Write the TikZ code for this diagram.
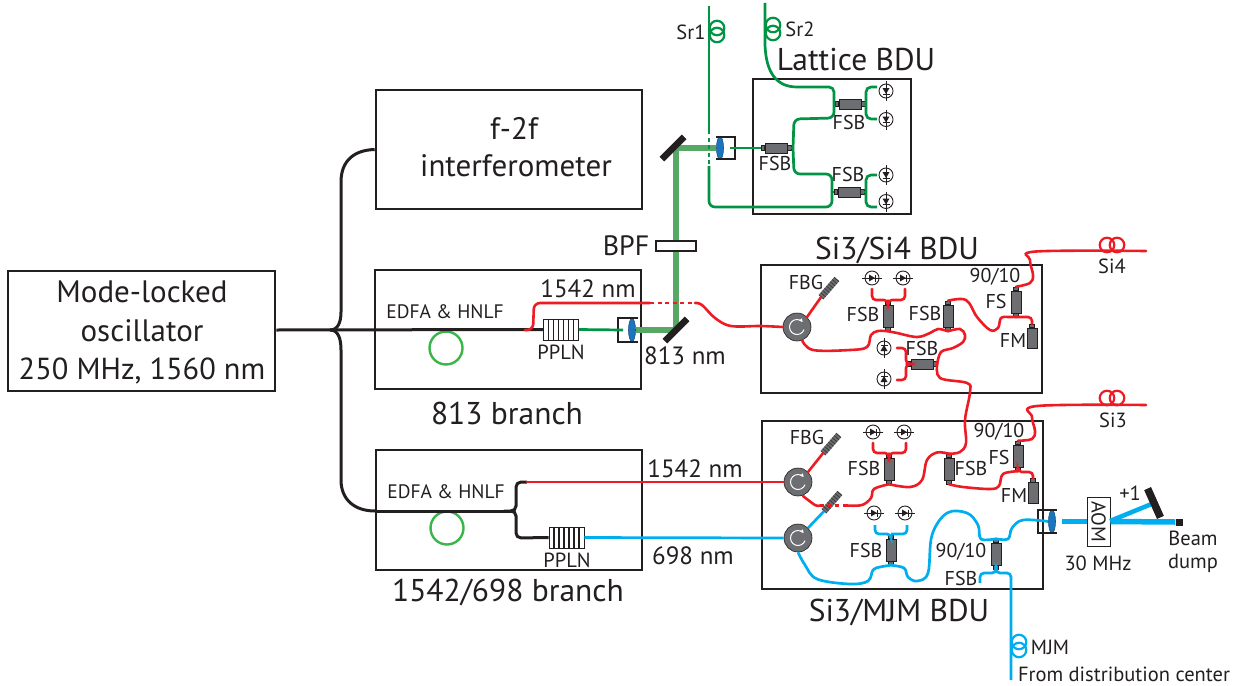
\documentclass[tikz,border=0pt]{standalone}
\usepackage{fontspec}
\setmainfont{PT Sans}
\usetikzlibrary{arrows.meta,shapes.geometric}
\definecolor{ink}{HTML}{231F20}
\definecolor{fred}{HTML}{ED1C24}
\definecolor{fgreen}{HTML}{009444}
\definecolor{fblue}{HTML}{00AEEF}
\definecolor{beamgreen}{HTML}{57A765}
\definecolor{loopgreen}{HTML}{39B54A}
\definecolor{part}{HTML}{6D6E71}
\definecolor{lensblue}{HTML}{1C75BC}
\tikzset{
  boxed/.style={draw=ink,line width=2.6pt,fill=none},
  tbig/.style={text=ink,inner sep=0,font=\fontsize{31}{36}\selectfont},
  tmid/.style={text=ink,inner sep=0,font=\fontsize{31.5}{36}\selectfont},
  tnm/.style={text=ink,inner sep=0,font=\fontsize{25}{30}\selectfont},
  tsm/.style={text=ink,inner sep=0,font=\fontsize{20}{24}\selectfont},
  txs/.style={text=ink,inner sep=0,font=\fontsize{20.5}{24}\selectfont},
  tedfa/.style={text=ink,inner sep=0,font=\fontsize{19.5}{24}\selectfont},
  fibred/.style={draw=fred,line width=2.6pt,line cap=round},
  fibgreen/.style={draw=fgreen,line width=2.7pt},
  fibblue/.style={draw=fblue,line width=2.7pt},
  fibblack/.style={draw=ink,line width=3pt},
  dotted fib/.style={dash pattern=on 4pt off 3.5pt,line cap=butt},
  wavy/.style={smooth,tension=0.6},
  loopring/.style={circle,draw=loopgreen,line width=2.4pt,minimum size=33pt,inner sep=0},
  coil/.style={circle,line width=2.2pt,minimum size=14.5pt,inner sep=0},
  fsbbody/.style={rectangle,fill=part,draw=ink,line width=.5pt,minimum width=22pt,minimum height=10pt,inner sep=0},
  fsbport/.style={rectangle,fill=part,draw=ink,line width=.5pt,minimum width=3.5pt,minimum height=5pt,inner sep=0},
  circulator/.style={circle,fill=part,draw=ink,line width=.6pt,minimum size=28pt,inner sep=0},
  pdring/.style={circle,draw=ink,fill=white,line width=.9pt,minimum size=14pt,inner sep=0},
  gratingbody/.style={rectangle,fill=part,minimum width=24pt,minimum height=6.5pt,inner sep=0},
  mirrorbar/.style={rectangle,fill=ink,minimum width=31pt,minimum height=6pt,inner sep=0},
  lens/.style={ellipse,fill=lensblue,draw=lensblue!70!black,line width=.6pt,minimum width=7pt,minimum height=23pt,inner sep=0},
  pplnbox/.style={rectangle,draw=ink,fill=white,line width=.8pt,inner sep=0},
  thickgreen/.style={draw=beamgreen,line width=5.5pt},
  thickblue/.style={draw=fblue,line width=5.5pt},
  housing/.style={draw=ink,line width=2.8pt},
}
\newcommand\fsb[4]{%
  \node[fsbbody,rotate=#4] (#1) at (#2,#3) {};
  \node[fsbport,rotate=#4,anchor=east] (#1-a) at (#1.west) {};
  \node[fsbport,rotate=#4,anchor=west] (#1-b) at (#1.east) {};}
\newcommand\pd[4]{%
  \node[pdring] (#1) at (#2,#3) {};
  \begin{scope}[shift={(#2,#3)},rotate=#4]
    \draw[ink,line width=1pt] (-10pt,0pt)--(10pt,0pt);
    \fill[ink] (-3pt,-3.5pt)--(3pt,0pt)--(-3pt,3.5pt)--cycle;
    \draw[ink,line width=1pt] (3pt,-3.5pt)--(3pt,3.5pt);
  \end{scope}}
\newcommand\circu[3]{%
  \node[circulator] (#1) at (#2,#3) {};
  \draw[white,line width=1pt,-{Latex[length=3.5pt,width=4pt]}] ([shift={(-20:7.5pt)}]#2,#3) arc[start angle=-20,end angle=-320,radius=7.5pt];}
\newcommand\grating[4]{%
  \node[gratingbody,rotate=#4] (#1) at (#2,#3) {};
  \draw[ink!75!part,line width=6.5pt,dash pattern=on .7pt off 2.2pt] (#1.west)--(#1.east);}
\newcommand\ppln[3]{%
  \node[pplnbox,minimum width=35pt,minimum height=21pt] (#1) at (#2,#3) {};
  \foreach \k in {-12.5,-7.5,-2.5,2.5,7.5,12.5}{\draw[ink,line width=1.3pt] ([xshift=\k pt]#1.north)--([xshift=\k pt]#1.south);}}
\begin{document}
\begin{tikzpicture}[x=1pt,y=-1pt]
\useasboundingbox (0,0) rectangle (1241,685);
% ---------- boxes
\node[boxed,minimum width=267pt,minimum height=120pt,inner sep=0] (osc) at (141.5,331) {};
\node[boxed,minimum width=266pt,minimum height=119pt,inner sep=0] (f2f) at (509,149.5) {};
\node[boxed,minimum width=266pt,minimum height=119pt,inner sep=0] (b813) at (508,329.5) {};
\node[boxed,minimum width=266pt,minimum height=120pt,inner sep=0] (b1542) at (509,510) {};
\node[boxed,minimum width=158pt,minimum height=135pt,inner sep=0] (latt) at (832,146.5) {};
\node[boxed,minimum width=281pt,minimum height=128pt,inner sep=0] (si4) at (901.5,329) {};
\node[boxed,minimum width=281pt,minimum height=168pt,inner sep=0] (si3) at (902.5,505) {};
% ---------- box texts
\node[tbig] (tosc1) at (142,292) {Mode-locked};
\node[tbig] (tosc2) at (142,331) {oscillator};
\node[tbig,font=\fontsize{30.4}{36}\selectfont] (tosc3) at (142,371) {250 MHz, 1560 nm};
\node[tbig] (tf1) at (514,128) {f-2f};
\node[tbig] (tf2) at (516,166) {interferometer};
\node[tmid] (t813) at (507,413) {813 branch};
\node[tmid] (t1542b) at (508,592) {1542/698 branch};
\node[tmid] (tlat) at (856,60) {Lattice BDU};
\node[tmid] (tsi4) at (897,250) {Si3/Si4 BDU};
\node[tmid] (tsi3) at (899,612) {Si3/MJM BDU};
\node[tnm] (tn1) at (588,289) {1542 nm};
\node[tnm] (tn2) at (685,356) {813 nm};
\node[tnm] (tn3) at (695,469) {1542 nm};
\node[tnm] (tn4) at (693,556) {698 nm};
\node[tnm,font=\fontsize{28}{32}\selectfont] (tbpf) at (626,246) {BPF};
\node[tedfa] (te1) at (445,312) {EDFA \& HNLF};
\node[tedfa] (te2) at (446,492) {EDFA \& HNLF};
\node[txs] (tp1) at (561,352) {PPLN};
\node[txs] (tp2) at (567,560) {PPLN};
\node[txs] (tsr1) at (691,32) {Sr1};
\node[txs] (tsr2) at (800,29) {Sr2};
\node[tsm] (tl1) at (775,163) {FSB};
\node[tsm] (tl2) at (849,122) {FSB};
\node[tsm] (tl3) at (848,174) {FSB};
\node[txs] (ts4) at (1112,266) {Si4};
\node[txs] (ts3) at (1113,420) {Si3};
\node[tsm] (a1) at (806,282) {FBG};
\node[tsm] (a2) at (863,314) {FSB};
\node[tsm] (a3) at (925,313) {FSB};
\node[tsm] (a4) at (995,277) {90/10};
\node[tsm] (a5) at (996,301) {FS};
\node[tsm] (a6) at (1013,340) {FM};
\node[tsm] (a7) at (922,348) {FSB};
\node[tsm] (b1) at (807,437) {FBG};
\node[tsm] (b2) at (864,468) {FSB};
\node[tsm] (b3) at (971,468) {FSB};
\node[tsm] (b4) at (999,432) {90/10};
\node[tsm] (b5) at (999,457) {FS};
\node[tsm] (b6) at (1014,495) {FM};
\node[tsm] (b7) at (866,550) {FSB};
\node[tsm] (b8) at (961,552) {90/10};
\node[tsm] (b9) at (961,578) {FSB};
\node[txs] (c1) at (1130,493) {+1};
\node[txs] (c2) at (1098,563) {30 MHz};
\node[txs] (c3) at (1193,538) {Beam};
\node[txs] (c4) at (1193,563) {dump};
\node[txs] (c5) at (1050,647) {MJM};
\node[txs] (c6) at (1124,674) {From distribution center};
% ---------- free-space optics
\node[loopring] (loop1) at (446,348) {};
\node[loopring] (loop2) at (447,528) {};
\ppln{pp1}{561}{329.5}
\ppln{pp2}{566.5}{537.5}
\coordinate (houseA) at (623,330);
\node[lens] (lensA) at (632,330) {};
\coordinate (houseB) at (730,148);
\node[lens] (lensB) at (720,148) {};
\node[lens] (lensC) at (1052,521.5) {};
\node[mirrorbar,rotate=45] (m1) at (676,330) {};
\node[mirrorbar,rotate=45] (m2) at (673,148) {};
\node[rectangle,fill=ink,minimum width=31pt,minimum height=7pt,inner sep=0,rotate=-66] (m3) at (1154,503) {};
\node[rectangle,fill=ink,minimum size=7pt,inner sep=0] (dump) at (1179,522) {};
\node[rectangle,draw=ink,fill=white,line width=1pt,minimum width=49pt,minimum height=23pt,inner sep=0,rotate=-90,text=ink,font=\fontsize{20}{22}\selectfont] (aom) at (1098.5,521.5) {AOM};
\coordinate (filtL) at (676,246);
\coordinate (turn) at (676,148);
\coordinate (beamblue) at (1062,521.5);
\coordinate (beamup) at (1110,521);
% beams
\draw[thickgreen] (lensA.east)--(m1.center);
\draw[thickgreen] (m1.center)--(turn);
\draw[thickgreen] (turn)--(lensB.west);
\path[fill=ink] (m1.north west)--(m1.north east)--(m1.south east)--(m1.south west)--cycle;
\path[fill=ink] (m2.north west)--(m2.north east)--(m2.south east)--(m2.south west)--cycle;
\node[rectangle,draw=ink,fill=white,line width=1.2pt,minimum width=40pt,minimum height=10pt,inner sep=0] (bpf) at (filtL) {};
\draw[thickblue] (beamblue)--(aom.south);
\draw[thickblue] (aom.north)--(dump.west);
\draw[thickblue,line width=4.5pt] (beamup)--(m3.center);
\fill[ink] (m3.north west) -- (m3.north east) -- (m3.south east) -- (m3.south west) -- cycle;
% lens housings
\draw[housing] (638,318)--(618,318)--(618,342)--(638,342);
\draw[housing] (716,137)--(735,137)--(735,159)--(716,159);
\draw[housing] (1057,510)--(1038,510)--(1038,533)--(1057,533);
% ---------- fibre components
\fsb{lf}{776}{148}{0}
\fsb{lu}{850}{104}{0}
\fsb{ld}{849}{192}{0}
\pd{pl1}{886}{91}{-90}
\pd{pl2}{886}{119.5}{-90}
\pd{pl3}{886}{175}{-90}
\pd{pl4}{886}{201.5}{-90}
\foreach \n/\x/\y in {cs1/717/28,cs2/717/35}{\node[coil,draw=fgreen] (\n) at (\x,\y) {};}
\foreach \n/\x/\y in {cs3/773/25,cs4/773/33}{\node[coil,draw=fgreen] (\n) at (\x,\y) {};}
\foreach \n/\x/\y in {c41/1107/245,c42/1117/245,c31/1107/398,c32/1117/398}{\node[coil,draw=fred] (\n) at (\x,\y) {};}
\foreach \n/\x/\y in {cm1/1019/642,cm2/1019/650}{\node[coil,draw=fblue] (\n) at (\x,\y) {};}
% Si3/Si4 BDU
\circu{c1r}{797}{327}
\grating{g1}{829}{288}{49}
\fsb{s1}{888}{316}{90}
\fsb{s2}{948}{316}{90}
\fsb{s3}{922}{364}{0}
\fsb{s4}{1016}{302}{90}
\node[fsbbody,rotate=90,minimum width=20pt] (sfm) at (1032,338) {};
\node[fsbport,rotate=90,anchor=west] (sfm-b) at (sfm.east) {};
\pd{p1}{872}{278}{0}
\pd{p2}{903}{278}{0}
\pd{p3}{884}{348}{90}
\pd{p4}{884}{379}{90}
% Si3/MJM BDU
\circu{c2r}{798}{482}
\circu{c3r}{798}{538}
\grating{g2}{831}{444}{49}
\grating{g3}{832}{502}{49}
\fsb{t1}{889}{469}{90}
\fsb{t2}{949}{469}{90}
\fsb{t3}{1018}{456}{90}
\fsb{t4}{891}{550}{90}
\fsb{t5}{996}{554}{90}
\node[fsbbody,rotate=90,minimum width=21pt] (tfm) at (1033,493) {};
\node[fsbport,rotate=90,anchor=west] (tfm-b) at (tfm.east) {};
\pd{q1}{873}{432}{0}
\pd{q2}{904}{432}{0}
\pd{q3}{874}{513}{0}
\pd{q4}{905}{513}{0}
% ---------- black fibres
\coordinate (split) at (330,330);
\draw[fibblack] (osc.east |- split)--(pp1.west);
\draw[fibblack] (split) .. controls (338,330) and (341,322) .. (341,312) -- (341,182) .. controls (341,160) and (355,150) .. (f2f.west);
\draw[fibblack] (split) .. controls (338,330) and (341,338) .. (341,350) -- (341,480) .. controls (341,500) and (355,511) .. (375,511);
\coordinate (j2) at (512,511);
\draw[fibblack] (b1542.west |- j2)--(j2);
\draw[fibblack,rounded corners=5pt] (j2)--(516,511)--(516,482)--(527,482);
\draw[fibblack,rounded corners=5pt] (j2)--(516,511)--(516,538)--(pp2.west);
% ---------- red fibres
\coordinate (rs1) at (525,330);
\coordinate (rd1) at (650,303);
\coordinate (rd2) at (695,303);
\draw[fibred,rounded corners=6pt] (rs1)--(533,330)--(534,303)--(rd1);
\draw[fibred,dotted fib] (rd1)--(rd2);
\draw[fibred] plot[wavy] coordinates {(rd2) (702,305) (715,318) (731,326) (760,326) (c1r.west)};
\draw[fibred] (527,482)--(c2r.west);
\draw[fibred] (c1r.north east)--(g1.west);
\draw[fibred] plot[wavy] coordinates {(802,340) (813,350) (850,350) (867,347) (871,335) (878,331) (s1-a.west)};
\draw[fibred] plot[wavy] coordinates {(s1-a.west) (897,333) (917,337) (930,333) (938,329) (s2-a.west)};
\draw[fibred] plot[wavy] coordinates {(s2-a.west) (960,329) (965,335) (963,342) (953,348) (941,352) (s3-b.east)};
\draw[fibred] plot[wavy] coordinates {(s3-b.east) (940,378) (967,383) (970,392) (965,420) (966,443) (960,452) (t2-b.east)};
\draw[fibred,rounded corners=4pt] (s1-b.east)--(888,300)--(872,300)--(872,289);
\draw[fibred,rounded corners=4pt] (s1-b.east)--(888,300)--(905,300)--(905,289);
\draw[fibred] plot[wavy] coordinates {(s2-b.east) (966,300) (977,317) (990,330) (998,328) (1001,318) (1009,317) (1016,317)};
\draw[fibred] (s4-a.west)--(1016,317);
\draw[fibred,rounded corners=4pt] (1016,317)--(1032,317)--(sfm-b.east);
\draw[fibred] plot[wavy] coordinates {(s4-b.east) (1030,283) (1033,275) (1030,260) (1036,251.5) (1146,251)};
\draw[fibred,rounded corners=4pt] (s3-a.west)--(906,364)--(906,348)--(897,348);
\draw[fibred,rounded corners=4pt] (s3-a.west)--(906,364)--(906,380)--(897,380);
% MJM red
\draw[fibred] (c2r.north east)--(g2.west);
\draw[fibred] plot[wavy] coordinates {(803,496) (815,505) (820,505.5)};
\draw[fibred,dotted fib] (820,505.5)--(847,505.5);
\draw[fibred] plot[wavy] coordinates {(847,505.5) (862,505) (871,498) (874,489) (t1-a.west)};
\draw[fibred] plot[wavy] coordinates {(t1-a.west) (910,487) (922,480) (927,460) (937,452.5) (t2-b.east)};
\draw[fibred,rounded corners=4pt] (t1-b.east)--(889,453)--(873,453)--(873,443);
\draw[fibred,rounded corners=4pt] (t1-b.east)--(889,453)--(906,453)--(906,443);
\draw[fibred] plot[wavy] coordinates {(t2-a.west) (963,487) (990,489) (999,486) (1003,474) (t3-a.west)};
\draw[fibred,rounded corners=4pt] (t3-a.west)--(1018,472)--(1033,472)--(tfm-b.east);
\draw[fibred] plot[wavy] coordinates {(t3-b.east) (1032,439) (1035,431) (1032,417) (1037,406) (1146,405)};
% ---------- green fibres
\coordinate (sr1t) at (709,6);
\coordinate (sr1a) at (709,130);
\coordinate (sr1b) at (709,166);
\coordinate (sr2t) at (765,3);
\coordinate (ju) at (834,104);
\coordinate (jd) at (832,192);
\coordinate (jf) at (793,148);
\draw[fibgreen] (sr1t)--(sr1a);
\draw[fibgreen,dotted fib] (sr1a)--(sr1b);
\draw[fibgreen,rounded corners=6pt] (sr1b)--(709,207)--(832,207)--(jd);
\draw[fibgreen] (houseB)--(lf-a.west);
\draw[fibgreen,rounded corners=6pt] (jf)--(794,119)--(834,118)--(ju);
\draw[fibgreen,rounded corners=6pt] (jf)--(794,174)--(832,174)--(jd);
\draw[fibgreen] (lf-b.east)--(jf);
\draw[fibgreen] (ju)--(lu-a.west);
\draw[fibgreen] (jd)--(ld-a.west);
\draw[fibgreen] (sr2t)--(765,45) .. controls (766,72) and (776,87) .. (797,87) -- (826,87);
\draw[fibgreen,rounded corners=5pt] (826,87)--(834,87)--(ju);
\draw[fibgreen,rounded corners=5pt] (877,87)--(866,87)--(866,119)--(877,119);
\draw[fibgreen] (lu-b.east)--(866,104);
\draw[fibgreen,rounded corners=5pt] (877,175)--(866,175)--(866,207)--(877,207);
\draw[fibgreen] (ld-b.east)--(866,192);
\draw[fibgreen] (pp1.east)--(houseA);
% ---------- blue fibres
\draw[fibblue] (pp2.east)--(c3r.west);
\draw[fibblue] (c3r.north east)--(g3.west);
\draw[fibblue,rounded corners=4pt] (875,525)--(875,534)--(891,534)--(t4-b.east);
\draw[fibblue,rounded corners=4pt] (907,525)--(907,534)--(891,534);
\draw[fibblue] plot[wavy] coordinates {(c3r.south) (805,565) (817,579) (850,584) (868,581) (873,570) (880,567) (t4-a.west)};
\draw[fibblue] plot[wavy] coordinates {(t4-a.west) (904,568) (908,577) (917,581) (928,573) (932,535) (947,513) (967,513) (978,525) (981,539) (t5-b.east)};
\draw[fibblue] plot[wavy] coordinates {(t5-b.east) (1008,539) (1012,528) (1023,520) (lensC.west)};
\draw[fibblue,rounded corners=4pt] (t5-a.west)--(996,573)--(980,573)--(980,583);
\draw[fibblue,rounded corners=4pt] (t5-a.west)--(996,573)--(1011,573)--(1011,680);
\end{tikzpicture}
\end{document}
